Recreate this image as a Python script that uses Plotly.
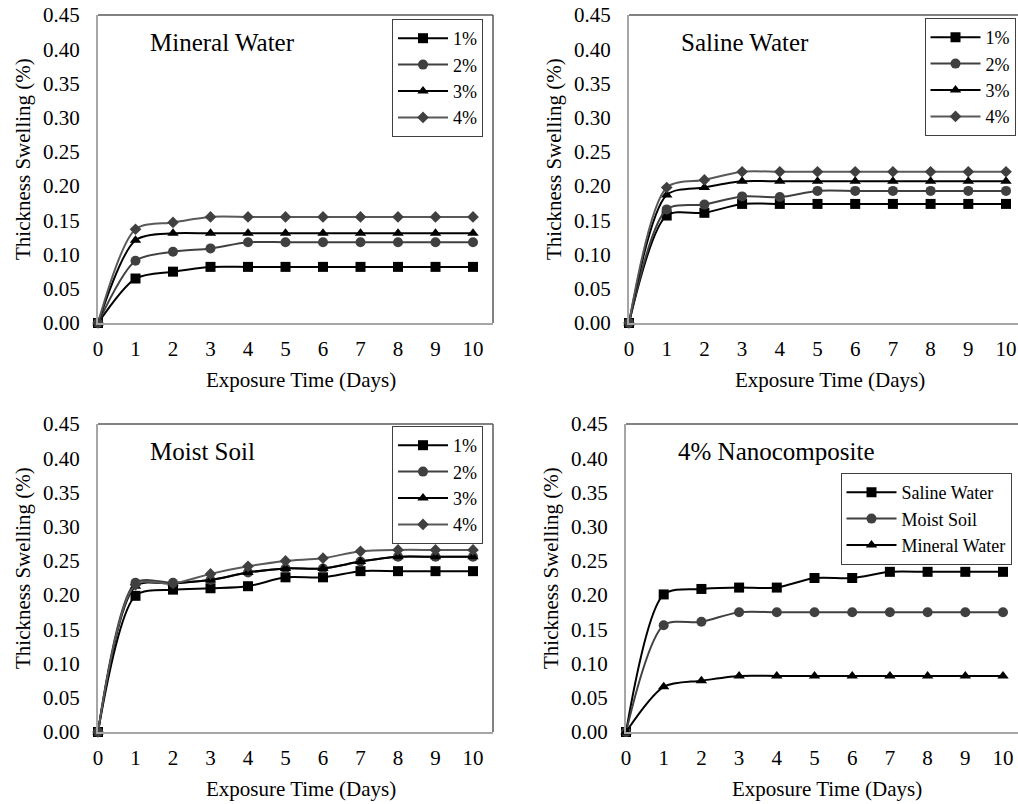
import plotly.graph_objects as go

W, H = 1018, 804
days = list(range(11))
pct_labels = ["1%", "2%", "3%", "4%"]
panel_titles = ["Mineral Water", "Saline Water", "Moist Soil", "4% Nanocomposite"]
x_title = "Exposure Time (Days)"
y_title = "Thickness Swelling (%)"

mineral_1 = [0, 0.065, 0.075, 0.082, 0.082, 0.082, 0.082, 0.082, 0.082, 0.082, 0.082]
mineral_2 = [0, 0.091, 0.104, 0.109, 0.118, 0.118, 0.118, 0.118, 0.118, 0.118, 0.118]
mineral_3 = [0, 0.121, 0.131, 0.131, 0.131, 0.131, 0.131, 0.131, 0.131, 0.131, 0.131]
mineral_4 = [0, 0.137, 0.147, 0.155, 0.155, 0.155, 0.155, 0.155, 0.155, 0.155, 0.155]

saline_1 = [0, 0.157, 0.161, 0.174, 0.174, 0.174, 0.174, 0.174, 0.174, 0.174, 0.174]
saline_2 = [0, 0.166, 0.173, 0.185, 0.184, 0.193, 0.193, 0.193, 0.193, 0.193, 0.193]
saline_3 = [0, 0.187, 0.198, 0.207, 0.207, 0.207, 0.207, 0.207, 0.207, 0.207, 0.207]
saline_4 = [0, 0.198, 0.209, 0.221, 0.221, 0.221, 0.221, 0.221, 0.221, 0.221, 0.221]

soil_1 = [0, 0.199, 0.208, 0.210, 0.213, 0.226, 0.226, 0.235, 0.235, 0.235, 0.235]
soil_2 = [0, 0.218, 0.218, 0.222, 0.233, 0.239, 0.239, 0.249, 0.256, 0.256, 0.256]
soil_3 = [0, 0.213, 0.217, 0.222, 0.233, 0.239, 0.239, 0.249, 0.256, 0.256, 0.256]
soil_4 = [0, 0.215, 0.217, 0.231, 0.242, 0.250, 0.254, 0.264, 0.266, 0.266, 0.266]

nano_labels = ["Saline Water", "Moist Soil", "Mineral Water"]
nano_saline = [0, 0.201, 0.209, 0.211, 0.211, 0.225, 0.225, 0.234, 0.234, 0.234, 0.234]
nano_soil = [0, 0.156, 0.161, 0.175, 0.175, 0.175, 0.175, 0.175, 0.175, 0.175, 0.175]
nano_mineral = [0, 0.066, 0.075, 0.082, 0.082, 0.082, 0.082, 0.082, 0.082, 0.082, 0.082]

FONT = "Liberation Serif, Times New Roman, serif"
FS = 21
LFS = 18

def px(x):
    return x / W

def py(y):
    return 1 - y / H

# panel geometry in pixels: left, right, top, bottom
panels = [
    (98, 493, 15, 323),
    (629, 1018, 15, 323),
    (98, 493, 424, 732),
    (626, 1018, 424, 732),
]
unit = [37.5, 37.7, 37.5, 37.7]

styles_pct = [
    dict(color="#000000", symbol="square", size=10, line="#000000"),
    dict(color="#404040", symbol="circle", size=10, line="#404040"),
    dict(color="#000000", symbol="triangle-up", size=10, line="#000000"),
    dict(color="#404040", symbol="diamond", size=9, line="#595959"),
]
styles_nano = [
    dict(color="#000000", symbol="square", size=10, line="#000000"),
    dict(color="#404040", symbol="circle", size=10, line="#404040"),
    dict(color="#000000", symbol="triangle-up", size=10, line="#000000"),
]

series = [
    (pct_labels, [mineral_1, mineral_2, mineral_3, mineral_4], styles_pct),
    (pct_labels, [saline_1, saline_2, saline_3, saline_4], styles_pct),
    (pct_labels, [soil_1, soil_2, soil_3, soil_4], styles_pct),
    (nano_labels, [nano_saline, nano_soil, nano_mineral], styles_nano),
]

fig = go.Figure()
layout = dict(
    width=W, height=H, margin=dict(l=0, r=0, t=0, b=0, autoexpand=False),
    paper_bgcolor="white", plot_bgcolor="white",
    font=dict(family=FONT, size=FS, color="black"),
    showlegend=True,
)
annotations = []
shapes = []

legend_boxes = [
    (483, 19),
    (1015.5, 18),
    (483, 426),
    (1011.5, 473),
]

for i, (labels, ys, styles) in enumerate(series):
    k = i + 1
    xa = "x" if k == 1 else f"x{k}"
    ya = "y" if k == 1 else f"y{k}"
    lg = "legend" if k == 1 else f"legend{k}"
    l, r, t, b = panels[i]
    xmax = (r - l) / unit[i]
    for lab, yv, st in zip(labels, ys, styles):
        fig.add_trace(go.Scatter(
            x=days, y=yv, name=lab, mode="lines+markers",
            line=dict(color=st["line"], width=2, shape="spline", smoothing=0.8),
            marker=dict(symbol=st["symbol"], size=st["size"], color=st["color"]),
            xaxis=xa, yaxis=ya, legend=lg, cliponaxis=False,
        ))
    layout[f"xaxis{'' if k == 1 else k}"] = dict(
        domain=[px(l), px(r)], range=[0, xmax], anchor=ya, automargin=False,
        tickmode="linear", tick0=0, dtick=1, showgrid=False, zeroline=False,
        showline=True, linecolor="#a6a6a6", linewidth=2, ticks="",
        ticklabelstandoff=6, tickfont=dict(family=FONT, size=FS, color="black"),
        fixedrange=True,
    )
    layout[f"yaxis{'' if k == 1 else k}"] = dict(
        domain=[py(b), py(t)], range=[0, 0.45], anchor=xa, automargin=False,
        tickmode="linear", tick0=0, dtick=0.05, tickformat=".2f",
        showgrid=False, zeroline=False,
        showline=True, linecolor="#a6a6a6", linewidth=2, ticks="",
        ticklabelstandoff=12, tickfont=dict(family=FONT, size=FS, color="black"),
        fixedrange=True,
    )
    # plot-area border (top and right)
    shapes.append(dict(type="line", xref="paper", yref="paper",
                       x0=px(l), x1=px(r), y0=py(t), y1=py(t),
                       line=dict(color="#595959", width=1.5)))
    if r < W:
        shapes.append(dict(type="line", xref="paper", yref="paper",
                           x0=px(r), x1=px(r), y0=py(t), y1=py(b),
                           line=dict(color="#595959", width=1.5)))
    lx, ly = legend_boxes[i]
    layout[lg] = dict(
        x=px(lx), y=py(ly), xanchor="right", yanchor="top",
        xref="paper", yref="paper",
        bgcolor="white", bordercolor="#404040", borderwidth=1,
        font=dict(family=FONT, size=LFS, color="black"),
        tracegroupgap=0, itemsizing="trace", itemwidth=50,
    )
    # panel title
    annotations.append(dict(
        text=panel_titles[i], xref="paper", yref="paper",
        x=px(l + 50), y=py(t + 27), xanchor="left", yanchor="middle",
        showarrow=False, font=dict(family=FONT, size=25, color="black"),
    ))
    # axis titles
    annotations.append(dict(
        text=x_title, xref="paper", yref="paper",
        x=px(l + 203 if r < W else l + 201), y=py(b + 57), xanchor="center", yanchor="middle",
        showarrow=False, font=dict(family=FONT, size=FS, color="black"),
    ))
    annotations.append(dict(
        text=y_title, xref="paper", yref="paper",
        x=px(l - 75), y=py((t + b) / 2 - 10), xanchor="center", yanchor="middle",
        textangle=-90, showarrow=False, font=dict(family=FONT, size=FS, color="black"),
    ))

layout["annotations"] = annotations
layout["shapes"] = shapes
fig.update_layout(**layout)
fig.write_html("out.html", config={"displayModeBar": False},
               post_script="document.body.style.margin='0px';document.body.style.overflow='hidden';")
